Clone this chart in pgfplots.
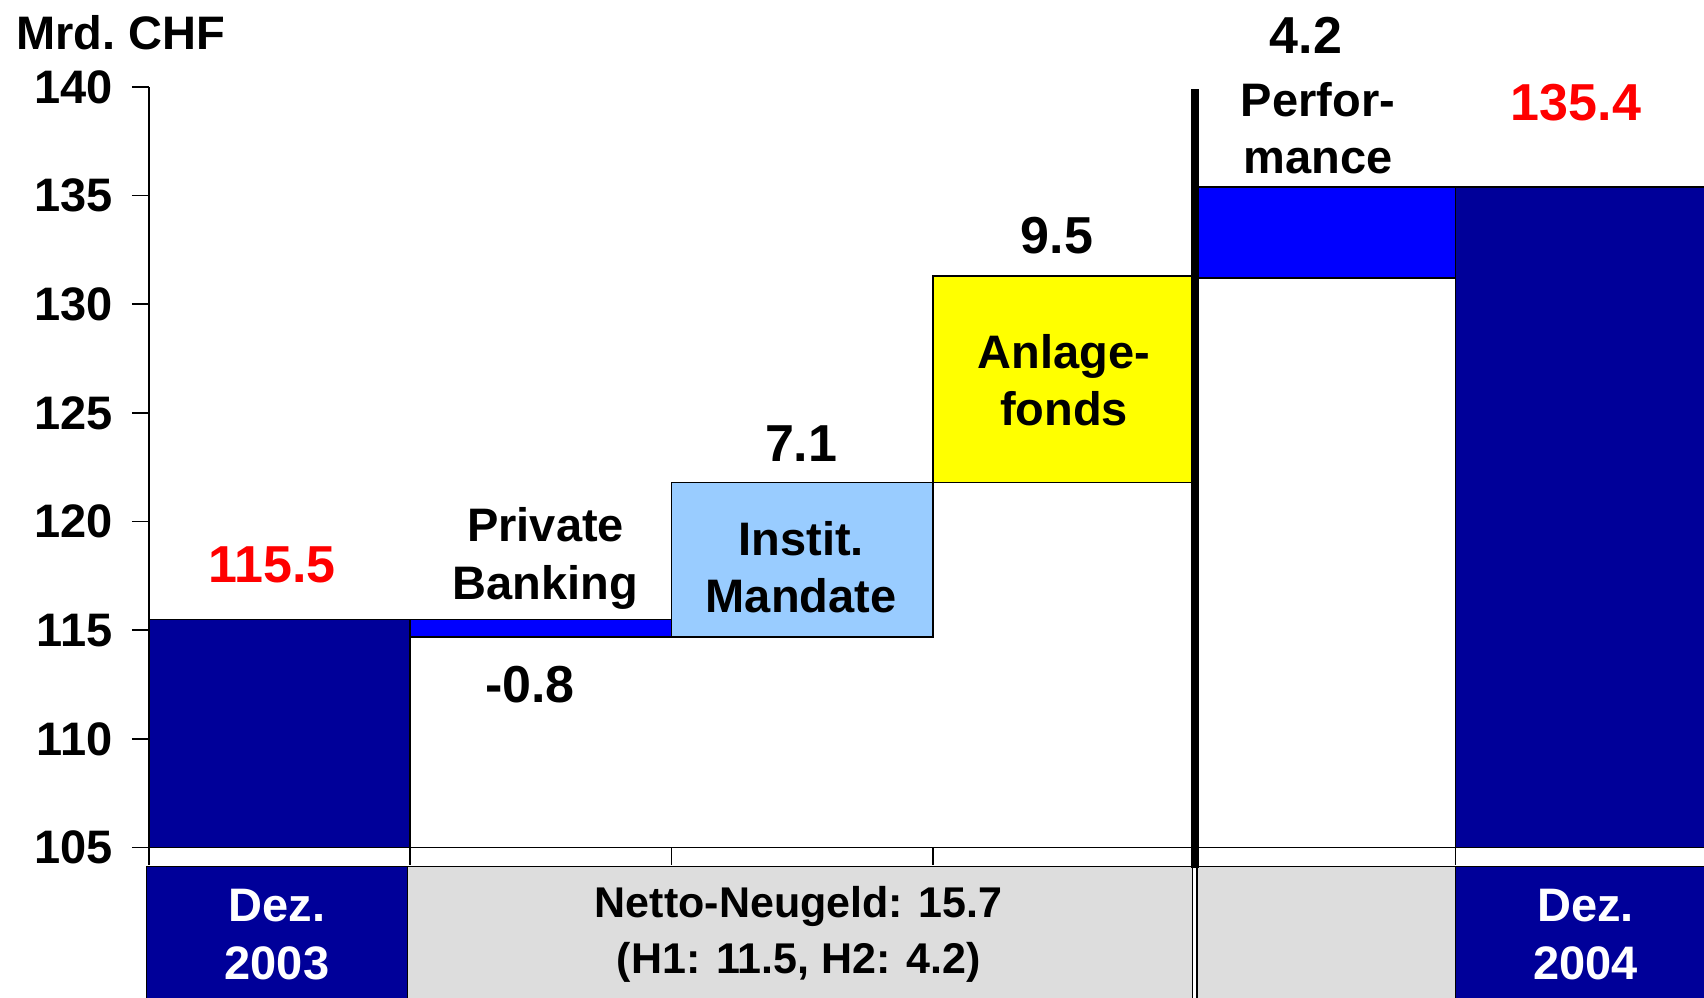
\documentclass[border=0pt]{standalone}
\usepackage{pgfplots}
\pgfplotsset{compat=1.18}
\usepackage{fontspec}
\setmainfont{Liberation Sans}
\definecolor{navy}{HTML}{000099}
\definecolor{pblue}{HTML}{0000FF}
\definecolor{lblue}{HTML}{99CCFF}
\definecolor{yel}{HTML}{FFFF00}
\definecolor{lgray}{HTML}{DDDDDD}
\definecolor{vred}{HTML}{FF0000}
\newcommand\lbl{\fontsize{23.5}{28.8}\selectfont\bfseries}
\newcommand\num{\fontsize{26}{31}\selectfont\bfseries}
\begin{document}
\begin{tikzpicture}
\useasboundingbox (-74.45pt,-74.7pt) rectangle (777.55pt,423.8pt);
\begin{axis}[
  at={(0,0)}, anchor=south west,
  scale only axis, width=777.55pt, height=380.35pt,
  xmin=0, xmax=5.951, ymin=105, ymax=140,
  axis x line=bottom, axis y line=left,
  axis line style={-, line width=0.8pt},
  xtick={0,1,2,3,4,5}, xticklabels={},
  ytick={105,110,...,140},
  tick align=outside, major tick length=8.5pt,
  tick style={black, line width=0.8pt},
  ticklabel style={font=\fontsize{23.5}{27}\selectfont\bfseries},
  yticklabel style={anchor=east, inner sep=0pt, xshift=-9.5pt},
  /pgf/number format/assume math mode=true,
  clip=false,
]
% Dez. 2003
\addplot[fill=navy, draw=black, line width=0.8pt] coordinates {(0,105) (0,115.5) (1,115.5) (1,105)} -- cycle;
% Private Banking
\addplot[fill=pblue, draw=black, line width=0.8pt] coordinates {(1,114.7) (1,115.5) (2,115.5) (2,114.7)} -- cycle;
% Instit. Mandate
\addplot[fill=lblue, draw=black, line width=0.8pt] coordinates {(2,114.7) (2,121.8) (3,121.8) (3,114.7)} -- cycle;
% Anlagefonds
\addplot[fill=yel, draw=black, line width=0.8pt] coordinates {(3,121.8) (3,131.3) (4,131.3) (4,121.8)} -- cycle;
% Performance
\addplot[fill=pblue, draw=black, line width=0.8pt] coordinates {(4,131.2) (4,135.4) (5,135.4) (5,131.2)} -- cycle;
% Dez. 2004
\addplot[fill=navy, draw=black, line width=0.8pt] coordinates {(5,105) (5,135.4) (6,135.4) (6,105)} -- cycle;

% bottom label boxes
\filldraw[fill=navy, draw=black, line width=0.6pt] (axis cs:-0.008,104.12) rectangle (axis cs:0.99,97.9);
\filldraw[fill=lgray, draw=black, line width=0.6pt] (axis cs:0.99,104.12) rectangle (axis cs:3.993,97.9);
\filldraw[fill=lgray, draw=black, line width=0.6pt] (axis cs:4.011,104.12) rectangle (axis cs:5.0,97.9);
\filldraw[fill=navy, draw=black, line width=0.6pt] (axis cs:5.0,104.12) rectangle (axis cs:6.1,97.9);
\draw[line width=4pt] (axis cs:4.002,139.9) -- (axis cs:4.002,104.05);

\node[font=\lbl, text=white, align=center] at (axis cs:0.49,101.0) {Dez.\\2003};
\node[font=\fontsize{21.5}{28}\selectfont\bfseries, align=center] at (axis cs:2.487,101.0) {Netto-Neugeld: 15.7\\(H1: 11.5, H2: 4.2)};
\node[font=\lbl, text=white, align=center] at (axis cs:5.498,101.0) {Dez.\\2004};

% value and category labels
\node[font=\fontsize{23.5}{27}\selectfont\bfseries] at (axis cs:-0.107,142.5) {Mrd.~CHF};
\node[font=\num, text=vred] at (axis cs:0.471,118.0) {115.5};
\node[font=\lbl, align=center] at (axis cs:1.518,118.3) {Private\\Banking};
\node[font=\num] at (axis cs:1.458,112.5) {-0.8};
\node[font=\num] at (axis cs:2.496,123.6) {7.1};
\node[font=\lbl, align=center] at (axis cs:2.496,117.9) {Instit.\\Mandate};
\node[font=\num] at (axis cs:3.475,133.15) {9.5};
\node[font=\lbl, align=center] at (axis cs:3.502,126.5) {Anlage-\\fonds};
\node[font=\num] at (axis cs:4.428,142.35) {4.2};
\node[font=\lbl, align=center] at (axis cs:4.474,138.1) {Perfor-\\mance};
\node[font=\num, text=vred] at (axis cs:5.461,139.27) {135.4};
\end{axis}
\end{tikzpicture}
\end{document}
